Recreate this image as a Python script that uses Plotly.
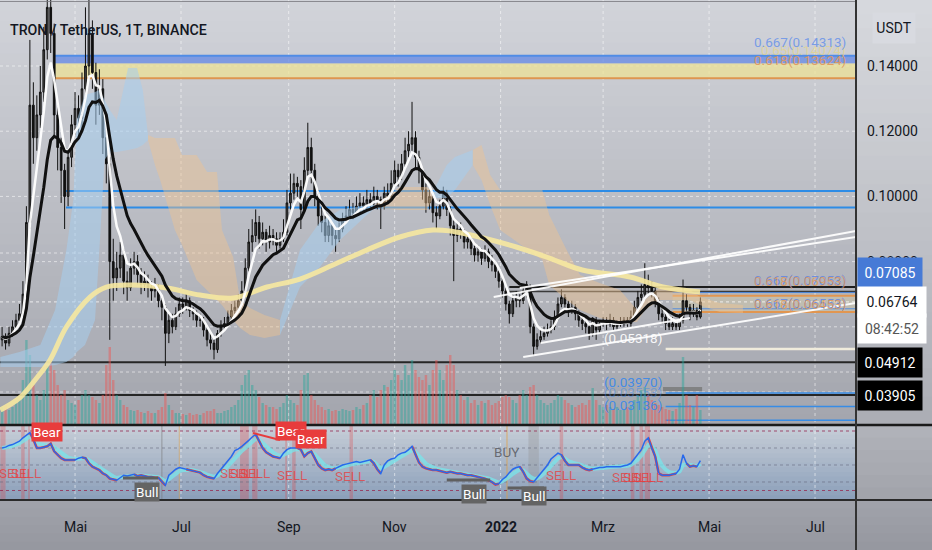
import numpy as np
import pandas as pd
import plotly.graph_objects as go

W, H = 932, 550
FONT = "Roboto, Arial, sans-serif"
INK = "#131722"

# ---------------- data (2-day candles, TRX/USDT) ----------------
start_date = "2021-03-20"
first_open = 0.056
close = [
0.057,0.055,0.058,0.060,0.062,0.064,0.070,0.092,0.128,0.118,
0.125,0.132,0.145,0.158,0.150,0.125,0.115,0.108,0.100,0.112,
0.122,0.127,0.124,0.133,0.140,0.150,0.138,0.128,0.133,0.118,
0.110,0.080,0.075,0.078,0.082,0.074,0.072,0.078,0.080,0.076,
0.073,0.074,0.072,0.071,0.072,0.068,0.066,0.058,0.062,0.060,
0.064,0.067,0.066,0.068,0.065,0.064,0.062,0.062,0.059,0.056,
0.055,0.053,0.058,0.060,0.061,0.063,0.065,0.066,0.068,0.071,
0.078,0.086,0.088,0.092,0.087,0.089,0.086,0.088,0.087,0.085,
0.087,0.089,0.098,0.101,0.104,0.103,0.096,0.108,0.115,0.108,
0.100,0.094,0.092,0.088,0.091,0.088,0.087,0.090,0.093,0.094,
0.096,0.095,0.097,0.098,0.097,0.099,0.098,0.100,0.099,0.097,
0.101,0.100,0.104,0.108,0.106,0.110,0.114,0.116,0.118,0.112,
0.108,0.102,0.098,0.100,0.095,0.094,0.097,0.101,0.096,0.091,
0.088,0.090,0.089,0.086,0.087,0.084,0.082,0.083,0.081,0.083,
0.080,0.079,0.077,0.074,0.071,0.067,0.064,0.068,0.069,0.068,
0.071,0.072,0.060,0.054,0.056,0.057,0.058,0.059,0.060,0.063,
0.067,0.069,0.067,0.065,0.066,0.064,0.062,0.061,0.060,0.058,
0.062,0.059,0.061,0.062,0.061,0.062,0.060,0.061,0.061,0.062,
0.061,0.063,0.066,0.069,0.070,0.073,0.072,0.071,0.068,0.064,
0.063,0.061,0.060,0.061,0.060,0.062,0.068,0.066,0.064,0.065,
0.063,0.06764]
high = [
0.060,0.058,0.060,0.062,0.064,0.067,0.074,0.097,0.148,0.135,
0.131,0.140,0.152,0.175,0.172,0.153,0.128,0.118,0.110,0.114,
0.125,0.132,0.131,0.138,0.158,0.165,0.154,0.141,0.139,0.136,
0.121,0.112,0.087,0.083,0.086,0.084,0.077,0.081,0.083,0.082,
0.078,0.077,0.076,0.074,0.075,0.073,0.069,0.067,0.064,0.064,
0.066,0.069,0.069,0.070,0.069,0.066,0.065,0.064,0.063,0.060,
0.058,0.056,0.059,0.062,0.063,0.065,0.067,0.068,0.070,0.074,
0.081,0.090,0.093,0.096,0.094,0.092,0.090,0.091,0.090,0.089,
0.089,0.093,0.102,0.107,0.107,0.106,0.105,0.112,0.1226,0.118,
0.110,0.102,0.097,0.094,0.093,0.092,0.090,0.092,0.095,0.097,
0.099,0.098,0.100,0.101,0.100,0.102,0.101,0.103,0.102,0.100,
0.103,0.104,0.108,0.111,0.110,0.113,0.118,0.120,0.129,0.120,
0.114,0.109,0.104,0.102,0.101,0.097,0.099,0.103,0.102,0.097,
0.093,0.092,0.092,0.090,0.089,0.088,0.085,0.085,0.084,0.085,
0.084,0.082,0.080,0.078,0.075,0.072,0.068,0.070,0.071,0.070,
0.072,0.074,0.073,0.061,0.058,0.059,0.060,0.061,0.062,0.065,
0.069,0.0715,0.070,0.068,0.068,0.067,0.065,0.064,0.063,0.061,
0.063,0.063,0.062,0.063,0.063,0.064,0.063,0.062,0.063,0.063,
0.063,0.065,0.068,0.071,0.073,0.0795,0.076,0.074,0.072,0.069,
0.066,0.064,0.063,0.063,0.062,0.064,0.0745,0.070,0.067,0.067,
0.066,0.069]
low = [
0.054,0.053,0.054,0.057,0.058,0.061,0.063,0.069,0.090,0.110,
0.114,0.121,0.129,0.142,0.144,0.118,0.108,0.098,0.090,0.097,
0.109,0.119,0.118,0.121,0.130,0.136,0.133,0.122,0.125,0.113,
0.104,0.056,0.068,0.071,0.075,0.070,0.068,0.071,0.076,0.073,
0.070,0.071,0.069,0.068,0.069,0.066,0.062,0.048,0.055,0.058,
0.059,0.063,0.064,0.065,0.063,0.062,0.060,0.060,0.057,0.054,
0.053,0.050,0.052,0.057,0.059,0.060,0.062,0.064,0.065,0.067,
0.070,0.077,0.083,0.086,0.084,0.085,0.083,0.084,0.085,0.083,
0.084,0.086,0.088,0.096,0.099,0.099,0.090,0.095,0.106,0.104,
0.097,0.091,0.089,0.086,0.086,0.085,0.083,0.086,0.089,0.092,
0.093,0.093,0.094,0.095,0.095,0.096,0.096,0.097,0.096,0.090,
0.096,0.098,0.099,0.103,0.103,0.105,0.109,0.112,0.114,0.109,
0.104,0.099,0.095,0.096,0.092,0.090,0.093,0.096,0.094,0.088,
0.074,0.086,0.087,0.084,0.084,0.082,0.080,0.080,0.079,0.080,
0.078,0.077,0.075,0.072,0.069,0.065,0.061,0.063,0.066,0.066,
0.067,0.069,0.058,0.0511,0.053,0.055,0.056,0.057,0.058,0.059,
0.062,0.066,0.065,0.063,0.064,0.062,0.060,0.059,0.058,0.056,
0.057,0.056,0.058,0.060,0.059,0.060,0.059,0.059,0.060,0.060,
0.060,0.060,0.062,0.065,0.068,0.069,0.070,0.069,0.066,0.062,
0.061,0.059,0.059,0.059,0.059,0.059,0.061,0.064,0.062,0.063,
0.062,0.0625]
volume = [
18,20,15,18,22,25,45,85,70,40,
30,25,35,60,65,55,40,30,35,25,
22,20,25,30,35,30,28,25,22,30,
60,78,45,30,25,20,18,15,14,15,
13,12,14,12,12,15,18,32,20,15,
12,12,11,10,12,10,11,10,12,14,
14,16,12,12,14,15,18,20,25,40,
50,55,40,35,28,22,20,18,18,16,
18,22,30,25,22,20,35,50,52,30,
25,20,18,15,16,14,15,14,16,15,
14,15,18,16,20,22,30,35,28,35,
40,38,45,55,50,45,60,50,65,55,
48,45,50,40,55,65,55,45,60,70,
60,35,30,25,28,22,25,20,24,22,
25,20,22,24,28,30,28,25,22,30,
35,30,38,40,30,25,22,20,22,25,
30,28,25,22,20,18,20,22,20,25,
37,25,20,18,20,18,16,18,15,16,
18,20,25,30,35,38,30,25,22,20,
18,16,15,14,16,22,68,30,20,18,
30,15]
rsi = [
70,71,73,74,76,78,82,85,88,80,
70,70,71,72,75,66,62,58,56,56,
56,56,58,59,58,52,48,46,44,40,
38,34,33,32,35,38,37,38,39,37,
38,37,36,36,35,35,30,26,38,42,
45,47,46,45,44,43,42,41,38,36,
35,34,40,45,50,55,60,67,69,72,
75,79,83,86,78,70,65,62,60,59,
58,64,68,70,70,70,68,60,64,66,
58,50,46,44,45,44,46,48,50,51,
52,53,54,53,54,55,56,52,45,40,
50,55,57,58,62,64,65,68,72,62,
53,48,46,45,44,44,43,42,41,42,
41,40,40,39,38,38,37,36,35,34,
32,30,27,28,33,36,41,45,47,48,
42,34,31,30,35,40,44,50,57,60,
64,62,55,50,50,50,50,47,45,44,
45,46,47,47,48,48,48,48,48,49,
50,52,57,62,68,78,82,70,60,40,
38,38,38,39,40,45,62,52,48,49,
48,55]

# long moving average (yellow)
sma_dates = ["2021-03-19","2021-03-30","2021-04-08","2021-04-16T14","2021-04-26","2021-05-09T14",
             "2021-05-19","2021-06-03","2021-06-23","2021-07-12","2021-07-31","2021-08-19T12",
             "2021-09-07T12","2021-09-26T12","2021-10-16","2021-11-04","2021-11-23","2021-12-03",
             "2021-12-22","2022-01-10","2022-01-29","2022-02-17","2022-03-16T12","2022-04-04T12","2022-04-25T19"]
sma_vals = [0.03448,0.03816,0.0437,0.04982,0.05994,0.06914,0.07221,0.07282,0.0719,0.06975,0.06883,
            0.07221,0.07466,0.07896,0.08356,0.08755,0.08969,0.08939,0.08724,0.08448,0.0811,0.07742,
            0.07528,0.07221,0.07067]

# ichimoku cloud segments
blue1_dates = ["2021-03-19","2021-03-30","2021-04-11","2021-04-19T12","2021-04-26","2021-04-30",
               "2021-05-02","2021-05-06T17","2021-05-12T12","2021-05-15","2021-05-18","2021-05-21",
               "2021-05-25","2021-05-31T12","2021-06-05T17","2021-06-09","2021-06-12"]
blue1_top = [0.05074,0.05227,0.05442,0.06515,0.08356,0.0989,0.12344,0.1311,0.13202,0.13264,0.12957,
             0.1265,0.12344,0.13939,0.13939,0.13264,0.11883]
blue1_bot = [0.04767,0.04767,0.04767,0.04828,0.0492,0.05074,0.05227,0.05442,0.06209,0.08356,0.11117,
             0.11362,0.11362,0.11423,0.11485,0.11577,0.1173]
orange1_dates = ["2021-06-12","2021-06-16","2021-06-19","2021-06-27T12","2021-07-01T14","2021-07-10",
                 "2021-07-16","2021-07-21T17","2021-07-24T14","2021-07-31","2021-08-04","2021-08-09T17",
                 "2021-08-18","2021-08-27"]
orange1_top = [0.11883,0.11791,0.11791,0.11791,0.1127,0.1127,0.10748,0.10748,0.08969,0.08141,0.06822,
               0.06577,0.06362,0.06209]
orange1_bot = [0.1173,0.10963,0.10503,0.08969,0.08509,0.07436,0.07129,0.06822,0.06669,0.06209,0.05963,
               0.05748,0.05656,0.05748]
blue2_dates = ["2021-08-27","2021-09-07T12","2021-09-19","2021-09-30T12","2021-10-16","2021-10-20T17"]
blue2_top = [0.06209,0.08356,0.09215,0.09583,0.09736,0.09736]
blue2_bot = [0.05748,0.07221,0.07834,0.08663,0.0943,0.09644]
orange2_dates = ["2021-10-20T17","2021-11-04","2021-11-19T14","2021-11-23"]
orange2_top = [0.09736,0.10288,0.10288,0.10135]
orange2_bot = [0.09644,0.09583,0.09583,0.09951]
blue3_dates = ["2021-11-23","2021-12-01","2021-12-05T17","2021-12-16"]
blue3_top = [0.10135,0.10963,0.11209,0.11423]
blue3_bot = [0.09951,0.09951,0.10196,0.10963]
orange3_dates = ["2021-12-16","2021-12-21","2021-12-26","2021-12-31T17","2022-01-25","2022-01-29",
                 "2022-02-08","2022-02-15T17","2022-02-27","2022-03-10T17","2022-03-20T12","2022-03-25",
                 "2022-04-02T19","2022-04-20","2022-04-25T19","2022-05-07","2022-05-20T12"]
orange3_top = [0.11423,0.11577,0.10656,0.10196,0.10196,0.0943,0.08356,0.07589,0.07344,0.07129,0.06515,
               0.06822,0.07221,0.07129,0.06914,0.0673,0.06669]
orange3_bot = [0.10963,0.10503,0.09736,0.08969,0.08049,0.07282,0.06822,0.06515,0.0627,0.06147,0.06147,
               0.06515,0.06822,0.06822,0.06669,0.06454,0.06423]

# drawn levels
fib_top_levels = [0.14313, 0.14074, 0.13624]
blue_levels = [0.10166, 0.0966]
support_levels = [0.04912, 0.03905]
box_levels = [0.07221, 0.07085]
fib_mid_orange = [0.06953, 0.06453]
fib_mid_blue = [0.07053, 0.06553]
low_fib_levels = [0.0397, 0.03553, 0.03136]
extra_dotted_levels = [0.08264, 0.04613]
recent_low = 0.05318
last_price = 0.06764
price_ticks = [0.14, 0.12, 0.10, 0.08, 0.06, 0.04]
price_tick_labels = [0.14, 0.12, 0.10, 0.08]   # the lower ones sit behind the price labels
month_dates = ["2021-05-01","2021-07-01","2021-09-01","2021-11-01","2022-01-01","2022-03-01","2022-05-01","2022-07-01"]
month_text = ["Mai","Jul","Sep","Nov","<b>2022</b>","Mrz","Mai","Jul"]
rsi_levels = [90, 70, 50, 30, 20]

# channel lines (start date, start price, end date, end price)
channels = [("2021-12-28", 0.06914, "2022-07-24T14", 0.08939),
            ("2022-01-12", 0.0719, "2022-07-24T14", 0.08755),
            ("2022-01-14", 0.05074, "2022-07-24T14", 0.0673),
            ("2022-01-24", 0.05503, "2022-04-20", 0.0627)]

# rsi-pane signals
sell_bands = [("2021-03-19","2021-03-22"),("2021-03-31","2021-04-02"),("2021-04-04","2021-04-05"),
              ("2021-08-04","2021-08-09"),("2021-08-11","2021-08-14"),("2021-08-30","2021-08-31"),
              ("2021-09-03","2021-09-05"),("2021-10-06","2021-10-08"),("2022-02-04","2022-02-06"),
              ("2022-03-17","2022-03-19"),("2022-03-22","2022-03-24"),("2022-03-25","2022-03-28")]
bear_labels = [("2021-04-15", 89), ("2021-09-02T14", 90), ("2021-09-13T19", 81)]
sell_labels = [("2021-03-27",40.6),("2021-04-03",40.6),("2021-08-01",40.6),("2021-08-06T19",40.6),
               ("2021-08-12T14",40.6),("2021-09-02T22",38.2),("2021-10-06",37.1),("2022-02-05",38.2),
               ("2022-03-15",35.9),("2022-03-21",35.9),("2022-03-26T22",35.9)]
bull_labels = [("2021-06-11T17", 18.2), ("2021-12-16T17", 15.9), ("2022-01-20", 13.0)]
bull_lines = [("2021-05-28T14","2021-06-17T19",34.7),("2021-12-01","2021-12-26",32.4),("2022-01-05","2022-01-26",22.9)]
buy_label = ("2022-01-04T16", 65.3)

X_RANGE = ["2021-03-18T19:12", "2022-07-24T14:00"]
P_RANGE = [0.02988, 0.16025]
R_RANGE = [8.8, 97.06]

# ---------------- derived ----------------
dates = pd.date_range(start_date, periods=len(close), freq="2D")
opens = [first_open] + close[:-1]
hi = np.maximum(np.array(high), np.maximum(opens, close))
lo = np.minimum(np.array(low), np.minimum(opens, close))
cs = pd.Series(close)
ema_fast = cs.ewm(span=5, adjust=False).mean()
ema_slow = cs.ewm(span=12, adjust=False).mean()
r = np.array(rsi, float)
sig = pd.Series(r).ewm(span=4, adjust=False).mean().values
falling = r < sig
mask = falling | np.roll(falling, -1)
rsi_red = np.where(mask, r, np.nan)
up = np.array(close) >= np.array(opens)
vol_colors = np.where(up, "rgba(38,166,154,0.45)", "rgba(239,83,80,0.45)")

def px(x): return x / W
def py(y): return 1 - y / H
XR = px(856)

shapes = []
def grad(x0, x1, y0, y1, c0, c1, n):
    for k in range(n):
        t = k / max(n - 1, 1)
        c = tuple(int(round(c0[j] + (c1[j] - c0[j]) * t)) for j in range(3))
        ya = y0 + (y1 - y0) * k / n
        yb = y0 + (y1 - y0) * (k + 1) / n + 1
        shapes.append(dict(type="rect", xref="paper", yref="paper", x0=px(x0), x1=px(x1),
                           y0=py(min(yb, y1)), y1=py(ya), fillcolor="rgb(%d,%d,%d)" % c,
                           line=dict(width=0), layer="below"))

grad(0, 856, 0, 425, (209, 211, 217), (164, 166, 174), 40)
grad(856, 932, 0, 425, (214, 216, 221), (172, 174, 181), 30)
grad(0, 856, 425, 500, (198, 205, 215), (140, 160, 186), 16)
grad(856, 932, 425, 500, (176, 178, 185), (162, 164, 171), 6)
grad(0, 932, 500, 550, (160, 162, 170), (150, 152, 160), 6)

def hl(y, x0=X_RANGE[0], x1=X_RANGE[1], color="black", width=1, dash="solid", yref="y3", layer="below"):
    shapes.append(dict(type="line", xref="x", yref=yref, x0=x0, x1=x1, y0=y, y1=y,
                       line=dict(color=color, width=width, dash=dash), layer=layer))

# grid
for p in price_ticks + extra_dotted_levels:
    shapes.append(dict(type="line", xref="paper", yref="y3", x0=0, x1=XR, y0=p, y1=p,
                       line=dict(color="rgba(255,255,255,0.55)", width=1, dash="dot"), layer="below"))
for d in month_dates:
    shapes.append(dict(type="line", xref="x", yref="paper", x0=d, x1=d, y0=py(500), y1=1,
                       line=dict(color="rgba(255,255,255,0.55)", width=1, dash="dot"), layer="below"))
for lv in rsi_levels:
    col = "rgba(150,40,80,0.8)" if lv in (90, 20) else "rgba(100,105,125,0.6)"
    hl(lv, color=col, width=1, dash="dot", yref="y2")
for a, b in sell_bands:
    shapes.append(dict(type="rect", xref="x", yref="paper", x0=a, x1=b, y0=py(500), y1=py(425),
                       fillcolor="rgba(225,60,60,0.28)", line=dict(width=0), layer="below"))
shapes.append(dict(type="rect", xref="x", yref="paper", x0="2022-01-17", x1="2022-01-23", y0=py(500), y1=py(425),
                   fillcolor="rgba(150,150,150,0.35)", line=dict(width=0), layer="below"))
for d, col in [("2022-01-04T16", "rgba(230,160,60,0.7)"), ("2021-06-20", "rgba(120,120,120,0.6)"),
               ("2021-06-30", "rgba(230,160,60,0.5)")]:
    shapes.append(dict(type="line", xref="x", yref="paper", x0=d, x1=d, y0=py(500), y1=py(425),
                       line=dict(color=col, width=1), layer="below"))

# top fib band
fib_start = "2021-04-19T12"
shapes.append(dict(type="rect", xref="x", yref="y3", x0=fib_start, x1=X_RANGE[1], y0=fib_top_levels[1],
                   y1=fib_top_levels[0], fillcolor="rgba(105,140,228,0.78)", line=dict(width=0), layer="below"))
shapes.append(dict(type="rect", xref="x", yref="y3", x0=fib_start, x1=X_RANGE[1], y0=fib_top_levels[2],
                   y1=fib_top_levels[1], fillcolor="rgba(236,226,150,0.75)", line=dict(width=0), layer="below"))
hl(fib_top_levels[0], fib_start, color="rgb(80,140,230)", width=2)
hl(fib_top_levels[2], fib_start, color="rgb(222,150,80)", width=2)
for lv in blue_levels:
    hl(lv, "2021-04-25T19", color="rgb(45,140,230)", width=2)
for lv in support_levels:
    hl(lv, color="#262626", width=2)
hl(box_levels[0], "2022-01-06", color="#1e1e1e", width=2)
hl(box_levels[1], "2022-01-06", color="#3a3a3a", width=1.5)
shapes.append(dict(type="rect", xref="x", yref="y3", x0="2022-04-10", x1=X_RANGE[1], y0=fib_mid_orange[1],
                   y1=fib_mid_orange[0], fillcolor="rgba(240,220,150,0.25)", line=dict(width=0), layer="below"))
for lv in fib_mid_orange:
    hl(lv, "2022-04-10", color="rgb(225,150,80)", width=2)
for lv in fib_mid_blue:
    hl(lv, "2022-04-10", color="rgba(60,130,230,0.8)", width=1)
hl(recent_low, "2022-04-06", color="rgb(240,236,220)", width=2.5)
for lv in low_fib_levels:
    hl(lv, "2022-04-06", color="rgb(55,140,230)", width=1.5)
hl(0.04092, "2022-04-04T12", "2022-04-27", color="rgba(120,120,120,0.8)", width=4)
hl(last_price, color="rgba(255,255,255,0.75)", width=1, dash="dot")
for d0, p0, d1, p1 in channels:
    shapes.append(dict(type="line", xref="x", yref="y3", x0=d0, x1=d1, y0=p0, y1=p1,
                       line=dict(color="rgba(255,255,255,0.92)", width=2), layer="above"))
for d0, d1, v in bull_lines:
    shapes.append(dict(type="line", xref="x", yref="y2", x0=d0, x1=d1, y0=v, y1=v,
                       line=dict(color="rgb(95,95,95)", width=3), layer="above"))
shapes.append(dict(type="line", xref="x", yref="y2", x0="2021-08-11T12", x1="2021-08-27", y0=87.6, y1=79.4,
                   line=dict(color="rgb(230,60,60)", width=2), layer="above"))

# frame lines
shapes += [
    dict(type="line", xref="paper", yref="paper", x0=0, x1=XR, y0=py(1.5), y1=py(1.5),
         line=dict(color="rgba(120,120,125,0.8)", width=1), layer="above"),
    dict(type="line", xref="paper", yref="paper", x0=0, x1=1, y0=py(425), y1=py(425),
         line=dict(color="#1a1a1a", width=2.5), layer="above"),
    dict(type="line", xref="paper", yref="paper", x0=0, x1=1, y0=py(500), y1=py(500),
         line=dict(color="#2a2a2a", width=2), layer="above"),
    dict(type="line", xref="paper", yref="paper", x0=XR, x1=XR, y0=0, y1=1,
         line=dict(color="#333333", width=2), layer="above"),
]

# ---------------- traces ----------------
fig = go.Figure()
fig.add_trace(go.Bar(x=dates, y=volume, marker=dict(color=list(vol_colors), line=dict(width=0)),
                     xaxis="x", yaxis="y", showlegend=False, hoverinfo="skip"))

def cloud(dl, top, bot, color):
    fig.add_trace(go.Scatter(x=list(dl) + list(dl[::-1]), y=list(top) + list(bot[::-1]), fill="toself",
                             fillcolor=color, mode="lines", line=dict(width=0), xaxis="x", yaxis="y3",
                             showlegend=False, hoverinfo="skip"))
BLUE_C = "rgba(165,205,238,0.55)"
ORANGE_C = "rgba(240,195,145,0.45)"
cloud(blue1_dates, blue1_top, blue1_bot, BLUE_C)
cloud(orange1_dates, orange1_top, orange1_bot, ORANGE_C)
cloud(blue2_dates, blue2_top, blue2_bot, BLUE_C)
cloud(orange2_dates, orange2_top, orange2_bot, ORANGE_C)
cloud(blue3_dates, blue3_top, blue3_bot, BLUE_C)
cloud(orange3_dates, orange3_top, orange3_bot, ORANGE_C)

fig.add_trace(go.Scatter(x=sma_dates, y=sma_vals, mode="lines", line=dict(color="rgba(246,232,160,0.9)", width=5, shape="spline"),
                         xaxis="x", yaxis="y3", showlegend=False, hoverinfo="skip"))
fig.add_trace(go.Candlestick(x=dates, open=opens, high=hi, low=lo, close=close, xaxis="x", yaxis="y3",
                             increasing=dict(line=dict(color="#111111", width=1), fillcolor="#4a4a4a"),
                             decreasing=dict(line=dict(color="#111111", width=1), fillcolor="#111111"),
                             whiskerwidth=0, showlegend=False, hoverinfo="skip"))
fig.add_trace(go.Scatter(x=dates, y=ema_fast, mode="lines", line=dict(color="rgba(255,255,255,0.95)", width=2.5),
                         xaxis="x", yaxis="y3", showlegend=False, hoverinfo="skip"))
fig.add_trace(go.Scatter(x=dates, y=ema_slow, mode="lines", line=dict(color="#111111", width=3),
                         xaxis="x", yaxis="y3", showlegend=False, hoverinfo="skip"))

fig.add_trace(go.Scatter(x=dates, y=sig, mode="lines", line=dict(color="rgba(120,230,235,0.75)", width=4),
                         xaxis="x", yaxis="y2", showlegend=False, hoverinfo="skip"))
fig.add_trace(go.Scatter(x=dates, y=rsi_red, mode="lines", line=dict(color="rgba(235,50,50,0.9)", width=2.5),
                         xaxis="x", yaxis="y2", showlegend=False, hoverinfo="skip"))
fig.add_trace(go.Scatter(x=dates, y=r, mode="lines", line=dict(color="rgb(40,105,235)", width=1.5),
                         xaxis="x", yaxis="y2", showlegend=False, hoverinfo="skip"))

# ---------------- annotations ----------------
ann = []
def A(font=None, **kw):
    f = dict(family=FONT, size=14, color=INK)
    if font:
        f.update(font)
    d = dict(showarrow=False, font=f, xanchor="center", yanchor="middle")
    d.update(kw)
    ann.append(d)

A(xref="paper", yref="paper", x=px(8), y=py(30), text="TRON / TetherUS, 1T, BINANCE", xanchor="left",
  font=dict(size=14.2, weight=500))
for d, t in zip(month_dates, month_text):
    A(xref="x", yref="paper", x=d, y=py(527), text=t)
for p in price_tick_labels:
    A(xref="paper", yref="y3", x=px(892), y=p, text="%.5f" % p)
A(xref="paper", yref="paper", x=px(894), y=py(28), text="USDT", bgcolor="rgb(216,218,224)", width=40, height=28)

# fib texts
FS = 13.5
A(xref="paper", yref="y3", x=px(848), y=0.14491, xanchor="right", text="0.65(0.14074)",
  font=dict(color="rgba(232,214,120,0.6)", size=FS))
A(xref="paper", yref="y3", x=px(848), y=0.14736, xanchor="right", text="0.667(0.14313)",
  font=dict(color="rgba(110,150,232,0.9)", size=FS))
A(xref="paper", yref="y3", x=px(848), y=0.14184, xanchor="right", text="0.618(0.13624)",
  font=dict(color="rgba(225,150,90,0.9)", size=FS))
A(xref="paper", yref="y3", x=px(848), y=0.07436, xanchor="right", text="0.667(0.07053)",
  font=dict(color="rgba(90,130,230,0.8)", size=FS))
A(xref="paper", yref="y3", x=px(848), y=0.07405, xanchor="right", text="0.618(0.06953)",
  font=dict(color="rgba(228,150,80,0.75)", size=FS))
A(xref="paper", yref="y3", x=px(848), y=0.0673, xanchor="right", text="0.667(0.06553)",
  font=dict(color="rgba(90,130,230,0.8)", size=FS))
A(xref="paper", yref="y3", x=px(848), y=0.06699, xanchor="right", text="0.618(0.06453)",
  font=dict(color="rgba(228,150,80,0.75)", size=FS))
A(xref="x", yref="y3", x="2022-03-18T05", y=0.05656, text="(0.05318)", font=dict(color="rgba(255,255,255,0.92)", size=FS))
A(xref="x", yref="y3", x="2022-03-18T05", y=0.04307, text="(0.03970)", font=dict(color="rgba(55,135,235,0.9)", size=FS))
A(xref="x", yref="y3", x="2022-03-18T05", y=0.0399, text="(0.03553)", font=dict(color="rgba(55,135,235,0.45)", size=FS))
A(xref="x", yref="y3", x="2022-03-18T05", y=0.03601, text="(0.03136)", font=dict(color="rgba(55,135,235,0.9)", size=FS))

# rsi-pane texts
for d, v in sell_labels:
    A(xref="x", yref="y2", x=d, y=v, text="SELL", font=dict(color="rgba(232,60,60,0.75)", size=FS))
A(xref="x", yref="y2", x=buy_label[0], y=buy_label[1], text="BUY", font=dict(color="rgba(85,85,90,0.8)", size=FS))
for d, v in bear_labels:
    A(xref="x", yref="y2", x=d, y=v, text="Bear", bgcolor="rgb(232,60,60)", font=dict(color="white", size=FS),
      borderpad=1)
for d, v in bull_labels:
    A(xref="x", yref="y2", x=d, y=v, text="Bull", bgcolor="rgb(100,100,100)", font=dict(color="white", size=FS),
      borderpad=1)

# price labels on the right scale
A(xref="paper", yref="y3", x=px(857), xanchor="left", y=box_levels[1], yshift=19, text="0.07085",
  bgcolor="rgb(70,122,214)", width=62, height=27, font=dict(color="white"))
A(xref="paper", yref="y3", x=px(857), xanchor="left", y=last_price, text="0.06764",
  bgcolor="white", width=66, height=28, font=dict(color=INK))
A(xref="paper", yref="y3", x=px(857), xanchor="left", y=last_price, yshift=-27, text="08:42:52",
  bgcolor="white", width=66, height=27, font=dict(color="#555555"))
for lv in support_levels:
    A(xref="paper", yref="y3", x=px(857), xanchor="left", y=lv, text="%.5f" % lv,
      bgcolor="black", width=62, height=27, font=dict(color="white"))

fig.update_layout(
    width=W, height=H, margin=dict(l=0, r=0, t=0, b=0),
    paper_bgcolor="rgb(165,167,175)", plot_bgcolor="rgba(0,0,0,0)",
    showlegend=False, bargap=0.3,
    xaxis=dict(domain=[0, XR], range=X_RANGE, type="date", visible=False, rangeslider=dict(visible=False),
               anchor="y"),
    yaxis=dict(domain=[py(425), 1], range=[0, 425], visible=False, anchor="x"),
    yaxis2=dict(domain=[py(500), py(425)], range=R_RANGE, visible=False, anchor="x"),
    yaxis3=dict(overlaying="y", range=P_RANGE, visible=False, anchor="x"),
    shapes=shapes, annotations=ann,
)
fig.write_html("out.html", config={"displayModeBar": False},
               post_script="document.body.style.margin='0';document.body.style.padding='0';")
